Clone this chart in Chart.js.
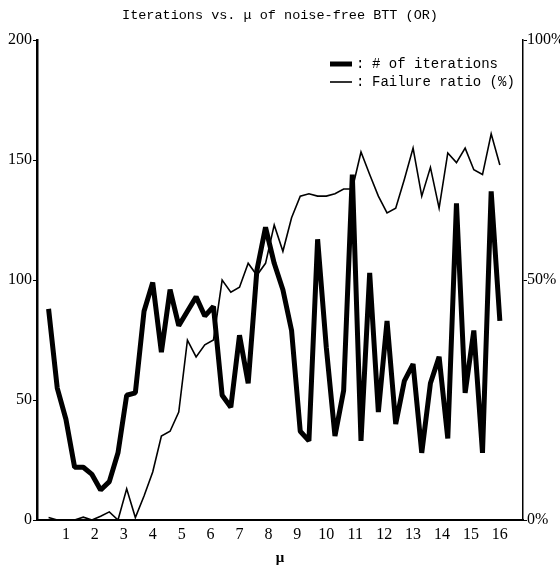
<!DOCTYPE html>
<html>
<head>
<meta charset="utf-8">
<script src="https://cdn.jsdelivr.net/npm/chart.js@4.4.1/dist/chart.umd.min.js"></script>
<style>
    html, body { margin: 0; padding: 0; background: #fff; }
    #wrap { width: 560px; height: 567px; }
</style>
</head>
<body>
<div id="wrap"><canvas id="chart" width="560" height="567"></canvas></div>
<script>
const muValues = [0.4, 0.7, 1.0, 1.3, 1.6, 1.9, 2.2, 2.5, 2.8, 3.1, 3.4, 3.7, 4.0, 4.3, 4.6, 4.9,
    5.2, 5.5, 5.8, 6.1, 6.4, 6.7, 7.0, 7.3, 7.6, 7.9, 8.2, 8.5, 8.8, 9.1, 9.4, 9.7, 10.0, 10.3,
    10.6, 10.9, 11.2, 11.5, 11.8, 12.1, 12.4, 12.7, 13.0, 13.3, 13.6, 13.9, 14.2, 14.5, 14.8,
    15.1, 15.4, 15.7, 16.0];
const iterations = [88, 55, 42, 22, 22, 19, 12.5, 16, 28, 52, 53, 87, 99, 70, 96, 81, 87, 93,
    85, 89, 52, 47, 77, 57, 104, 122, 107, 96, 79, 37, 33, 117, 72, 35, 54, 144, 33, 103, 45,
    83, 40, 58, 65, 28, 57, 68, 34, 132, 53, 79, 28, 137, 83];
const failureRatio = [0.5, 0, 0, 0, 0.6, 0, 0.8, 1.7, 0, 6.5, 0.5, 5, 10, 17.5, 18.5, 22.5, 37.5,
    34, 36.5, 37.5, 50, 47.5, 48.5, 53.5, 51, 53.5, 61.5, 56, 63, 67.5, 68, 67.5, 67.5, 68, 69,
    69, 76.7, 72, 67.5, 64, 65, 71, 77.5, 67.5, 73.5, 65, 76.5, 74.5, 77.5, 73, 72, 80.5, 74];
const xTicks = [1, 2, 3, 4, 5, 6, 7, 8, 9, 10, 11, 12, 13, 14, 15, 16];
const leftTicks = [0, 50, 100, 150, 200];
const rightTicks = [0, 50, 100];

const serif = "'Liberation Serif', 'DejaVu Serif', serif";
const mono = "'Liberation Mono', 'DejaVu Sans Mono', monospace";

// legend drawn inside the plot, top right, like the original
const innerLegend = {
    id: "innerLegend",
    afterDraw(chart) {
        const ctx = chart.ctx;
        ctx.save();
        ctx.font = "14px " + mono;
        ctx.fillStyle = "#000";
        ctx.textBaseline = "middle";
        chart.data.datasets.forEach((ds, i) => {
            const y = 64 + i * 18;
            ctx.beginPath();
            ctx.lineWidth = ds.borderWidth;
            ctx.strokeStyle = "#000";
            ctx.moveTo(330, y);
            ctx.lineTo(352, y);
            ctx.stroke();
            ctx.fillText(":", 356, y);
            ctx.fillText(ds.label, 372, y);
        });
        ctx.restore();
    }
};

new Chart(document.getElementById("chart"), {
    type: "line",
    data: {
        datasets: [
            {
                label: "# of iterations",
                data: muValues.map((m, i) => ({ x: m, y: iterations[i] })),
                yAxisID: "y",
                borderColor: "#000",
                borderWidth: 5,
                borderJoinStyle: "bevel",
                pointRadius: 0,
                tension: 0
            },
            {
                label: "Failure ratio (%)",
                data: muValues.map((m, i) => ({ x: m, y: failureRatio[i] })),
                yAxisID: "y1",
                borderColor: "#000",
                borderWidth: 1.6,
                pointRadius: 0,
                tension: 0
            }
        ]
    },
    options: {
        responsive: false,
        animation: false,
        layout: { padding: 0 },
        plugins: {
            legend: { display: false },
            tooltip: { enabled: false },
            title: {
                display: true,
                text: "Iterations vs. μ of noise-free BTT (OR)",
                color: "#000",
                font: { family: mono, size: 13.5, weight: "normal" },
                padding: { top: 7, bottom: 17 }
            }
        },
        scales: {
            x: {
                type: "linear",
                min: 0,
                max: 16.8,
                afterBuildTicks: (scale) => { scale.ticks = xTicks.map(v => ({ value: v })); },
                afterFit: (scale) => { scale.height = 47; },
                grid: { display: false, drawTicks: false },
                border: { display: true, color: "#000", width: 2 },
                ticks: { color: "#000", font: { family: serif, size: 16 }, padding: 5, maxRotation: 0 },
                title: {
                    display: true,
                    text: "μ",
                    color: "#000",
                    font: { family: serif, size: 15, weight: "bold" },
                    padding: { top: 2, bottom: 0 }
                }
            },
            y: {
                position: "left",
                min: 0,
                max: 200,
                afterBuildTicks: (scale) => { scale.ticks = leftTicks.map(v => ({ value: v })); },
                afterFit: (scale) => { scale.width = 37; },
                grid: { drawOnChartArea: false, drawTicks: true, tickLength: 4, color: "#000" },
                border: { display: true, color: "#000", width: 2.5 },
                ticks: { color: "#000", font: { family: serif, size: 16 }, padding: 1 }
            },
            y1: {
                position: "right",
                min: 0,
                max: 100,
                afterBuildTicks: (scale) => { scale.ticks = rightTicks.map(v => ({ value: v })); },
                afterFit: (scale) => { scale.width = 37; },
                grid: { drawOnChartArea: false, drawTicks: true, tickLength: 4, color: "#000" },
                border: { display: true, color: "#000", width: 1.5 },
                ticks: { color: "#000", font: { family: serif, size: 16 }, padding: 0, callback: (v) => v + "%" }
            }
        }
    },
    plugins: [innerLegend]
});
</script>
</body>
</html>
